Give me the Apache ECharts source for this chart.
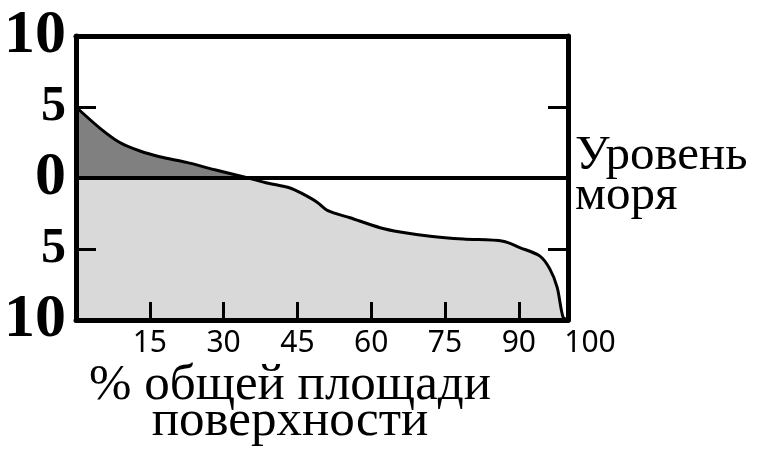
<!DOCTYPE html>
<html>
<head>
<meta charset="utf-8">
<script src="https://cdn.jsdelivr.net/npm/echarts@6/dist/echarts.min.js"></script>
<style>html,body{margin:0;padding:0;background:#fff}#c{width:758px;height:457px}</style>
</head>
<body>
<div id="c"></div>
<script>
// % of total surface area (x) and elevation in km (y)
const areaPct = [0, 4.9, 8.9, 13, 17, 22.5, 28, 35, 38.8, 43.5, 46, 49, 51.2, 55.7, 61.8, 65.9, 72, 78.7, 86.8, 90.2, 94.3, 96.3, 97.8, 99, 100];
const elevationKm = [5, 3.5, 2.5, 1.9, 1.5, 1.1, 0.6, 0, -0.35, -0.7, -1.1, -1.7, -2.3, -2.8, -3.5, -3.8, -4.1, -4.3, -4.45, -4.9, -5.5, -6.4, -7.7, -9.8, -10];
const xTickValues = [15, 30, 45, 60, 75, 90];
const xLabelValues = [15, 30, 45, 60, 75, 90, 100];
const yTickValues = [-5, 5];
const yLabelValues = [-10, -5, 0, 5, 10];
const xTitle = '% общей площади\nповерхности';
const seaLevelLabel = 'Уровень\nморя';

const curve = areaPct.map((x, i) => [x, elevationKm[i]]);
const chart = echarts.init(document.getElementById('c'), null, {renderer: 'canvas'});
const axisLineStyle = {color: '#000', width: 5};
chart.setOption({
  animation: false,
  backgroundColor: '#fff',
  grid: {left: 76, right: 190, top: 36, bottom: 137},
  xAxis: [{
    type: 'value', min: 0, max: 100, position: 'bottom', z: 10,
    splitLine: {show: false},
    axisLine: {show: true, onZero: false, lineStyle: axisLineStyle},
    axisTick: {show: true, inside: true, length: 18, lineStyle: {color: '#000', width: 3}, customValues: xTickValues},
    axisLabel: {
      show: true, margin: 8, customValues: xLabelValues,
      formatter: v => v === 100 ? '{far|100}' : '{n|' + v + '}',
      rich: {
        n: {fontFamily: 'Noto Sans', fontSize: 30, color: '#000'},
        far: {fontFamily: 'Noto Sans', fontSize: 30, color: '#000', padding: [0, 0, 0, 44]}
      }
    }
  }, {
    type: 'value', min: 0, max: 100, position: 'top', z: 10,
    splitLine: {show: false},
    axisLine: {show: true, onZero: false, lineStyle: axisLineStyle},
    axisTick: {show: false}, axisLabel: {show: false}
  }],
  yAxis: [{
    type: 'value', min: -10, max: 10, position: 'left', z: 10,
    splitLine: {show: false},
    axisLine: {show: true, onZero: false, lineStyle: axisLineStyle},
    axisTick: {show: true, inside: true, length: 20, lineStyle: {color: '#000', width: 3}, customValues: yTickValues},
    axisLabel: {
      show: true, margin: 10, customValues: yLabelValues,
      formatter: v => (Math.abs(v) === 5 ? '{s|' : '{b|') + Math.abs(v) + '}',
      rich: {
        b: {fontFamily: 'Liberation Serif', fontWeight: 'bold', fontSize: 62, color: '#000'},
        s: {fontFamily: 'Liberation Serif', fontWeight: 'bold', fontSize: 50, color: '#000'}
      }
    }
  }, {
    type: 'value', min: -10, max: 10, position: 'right', z: 10,
    splitLine: {show: false},
    axisLine: {show: true, onZero: false, lineStyle: axisLineStyle},
    axisTick: {show: true, inside: true, length: 20, lineStyle: {color: '#000', width: 3}, customValues: yTickValues},
    axisLabel: {show: false}
  }],
  series: [{
    type: 'line', z: 1, data: curve, showSymbol: false, silent: true,
    lineStyle: {opacity: 0},
    markArea: {
      silent: true,
      data: [
        [{yAxis: 0, itemStyle: {color: '#808080'}}, {yAxis: 10}],
        [{yAxis: -10, itemStyle: {color: '#d9d9d9'}}, {yAxis: 0}]
      ]
    }
  }, {
    type: 'line', z: 3, data: curve, showSymbol: false, silent: true, smooth: 0.3,
    lineStyle: {color: '#000', width: 3},
    areaStyle: {origin: 'end', color: '#fff', opacity: 1}
  }, {
    type: 'line', z: 5, data: [], silent: true,
    markLine: {
      silent: true, symbol: 'none', label: {show: false},
      lineStyle: {color: '#000', width: 4, type: 'solid'},
      data: [{yAxis: 0}]
    }
  }],
  graphic: [{
    type: 'text', x: 575, y: 136, z: 20,
    style: {text: seaLevelLabel, font: '49px "Liberation Serif"', fill: '#000', lineHeight: 40}
  }, {
    type: 'text', x: 290, y: 368, z: 20,
    style: {text: xTitle, font: '51px "Liberation Serif"', fill: '#000', lineHeight: 36, align: 'center', verticalAlign: 'top'}
  }]
});
</script>
</body>
</html>
